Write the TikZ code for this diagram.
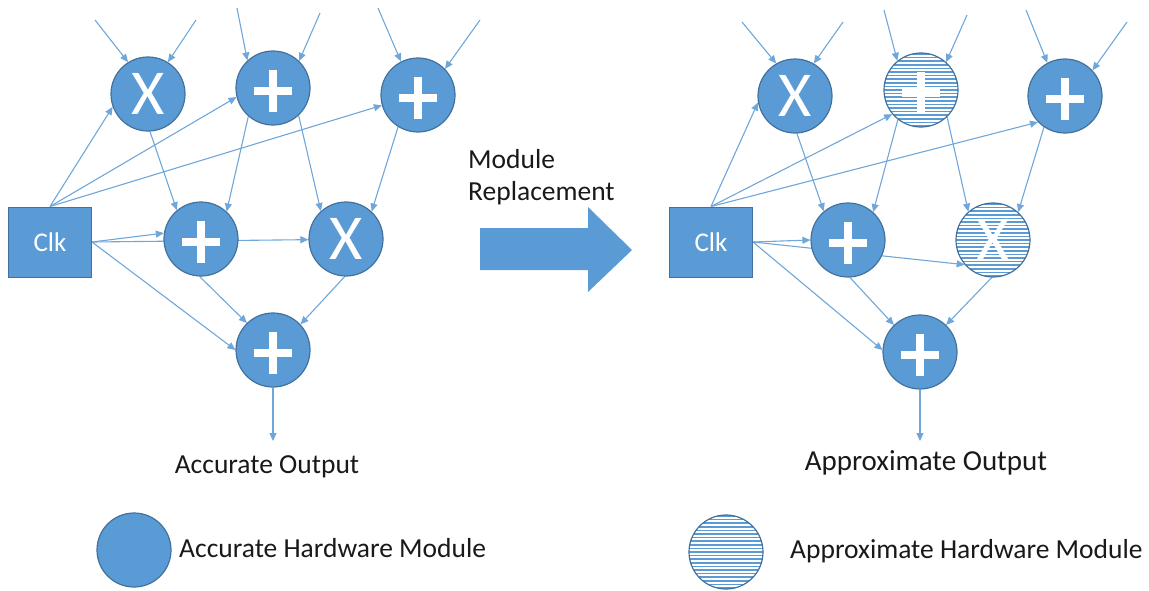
\documentclass[tikz,border=0pt]{standalone}
\usepackage{fontspec}
\setmainfont{Carlito}
\usetikzlibrary{arrows.meta,backgrounds}

\definecolor{modblue}{HTML}{5B9BD5}
\definecolor{modedge}{HTML}{41719C}
\definecolor{wireblue}{HTML}{6FA7DB}

% horizontal stripes of an approximate module
\newcommand{\hatchfill}{%
  \foreach \k in {-10,...,10}
    \draw[modblue,line width=1.5pt] ([shift={(-40pt,{\k*3.6pt})}]path picture bounding box.center) -- ++(80pt,0pt);}
% white plus of an adder
\newcommand{\plusmark}{%
  \draw[white,line width=8pt]
    ([shift={(-19pt,-3pt)}]path picture bounding box.center) -- ([shift={(19pt,-3pt)}]path picture bounding box.center)
    ([shift={(0pt,-24pt)}]path picture bounding box.center) -- ([shift={(0pt,18pt)}]path picture bounding box.center);}

\begin{document}
\begin{tikzpicture}[x=1pt,y=-1pt,
    acc/.style={circle,fill=modblue,draw=modedge,line width=1.2pt,minimum size=74pt,inner sep=0pt,
      text=white,font=\fontsize{64}{64}\selectfont},
    apx/.style={acc,fill=white,path picture={\hatchfill}},
    addacc/.style={acc,path picture={\plusmark}},
    addapx/.style={apx,path picture={\hatchfill\plusmark}},
    clkbox/.style={rectangle,fill=modblue,draw=modedge,line width=1pt,minimum width=83pt,minimum height=70pt,
      text=white,font=\fontsize{27}{32}\selectfont},
    wire/.style={draw=wireblue,line width=1.1pt,-{Triangle[length=8pt,width=7pt]}},
    lbl/.style={inner sep=0pt,text=black!90,font=\fontsize{27.5}{33}\selectfont}]
\useasboundingbox (0,0) rectangle (1149,590);

% accurate circuit
\node[clkbox] (clk) at (50,242) {Clk};
\node[acc] (m1) at (148,94) {X};
\node[addacc] (a1) at (273,88) {};
\node[addacc] (a2) at (418,95) {};
\node[addacc] (a3) at (201,239) {};
\node[acc] (m2) at (346,239) {X};
\node[addacc] (a4) at (273,350) {};
\coordinate (i1) at (95,20);  \coordinate (i2) at (196,20);
\coordinate (i3) at (237,8);  \coordinate (i4) at (320,13);
\coordinate (i5) at (378,8);  \coordinate (i6) at (480,20);
\coordinate (o1) at (273,441);
\node[lbl,anchor=base] (out1) at (267,473) {Accurate Output};

% approximate circuit
\node[clkbox] (clkr) at (711,242) {Clk};
\node[acc] (m1r) at (795,96) {X};
\node[addapx] (a1r) at (921,90) {};
\node[addacc] (a2r) at (1065,96) {};
\node[addacc] (a3r) at (848,240) {};
\node[apx] (m2r) at (993,240) {X};
\node[addacc] (a4r) at (920,352) {};
\coordinate (j1) at (742,22);  \coordinate (j2) at (843,22);
\coordinate (j3) at (884,10);  \coordinate (j4) at (967,15);
\coordinate (j5) at (1026,10); \coordinate (j6) at (1127,22);
\coordinate (o2) at (920,441);
\node[lbl,anchor=base,font=\fontsize{29}{35}\selectfont] (out2) at (926,470) {Approximate Output};

\begin{scope}[on background layer]
\foreach \s/\t in {i1/m1.122, i2/m1.58, i3/a1.133, i4/a1.46, i5/a2.117, i6/a2.44,
    clk.north/m1.200, clk.north/a1.194, clk.north/a2.196,
    clk.east/a3.171, clk.east/m2.181, clk.east/a4.180,
    m1.273/a3.130, a1.229/a3.47, a1.313/m2.132, a2.238/m2.47,
    a3.268/a4.134, m2.268/a4.43, a4.south/o1}
  \draw[wire] (\s) -- (\t);
\foreach \s/\t in {j1/m1r.120, j2/m1r.60, j3/a1r.129, j4/a1r.48, j5/a2r.118, j6/a2r.43,
    clkr.north/m1r.190, clkr.north/a1r.220, clkr.north/a2r.224,
    clkr.east/a3r.180, clkr.east/m2r.221, clkr.east/a4r.177,
    m1r.273/a3r.130, a1r.232/a3r.48, a1r.314/m2r.131, a2r.236/m2r.48,
    a3r.273/a4r.134, m2r.268/a4r.46, a4r.south/o2}
  \draw[wire] (\s) -- (\t);
\end{scope}

% replacement arrow
\fill[modblue] (480,228) -- (588,228) -- (588,207) -- (632,250) -- (588,292) -- (588,270) -- (480,270) -- cycle;
\node[lbl,anchor=base west] (rep1) at (468,168) {Module};
\node[lbl,anchor=base west] (rep2) at (468,200) {Replacement};

% legend
\node[acc] (keyacc) at (134,550) {};
\node[lbl,anchor=base west] (keyacctxt) at (179,557) {Accurate Hardware Module};
\node[apx] (keyapx) at (726,552) {};
\node[lbl,anchor=base west] (keyapxtxt) at (790,558) {Approximate Hardware Module};
\end{tikzpicture}
\end{document}
